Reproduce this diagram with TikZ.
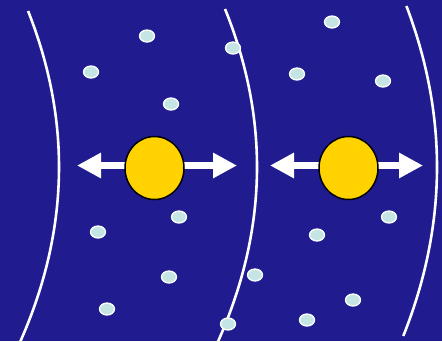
\documentclass[tikz,border=0pt]{standalone}
\usetikzlibrary{shapes.geometric,arrows.meta}
\definecolor{bg}{RGB}{32,28,144}
\definecolor{dotfill}{RGB}{197,229,229}
\definecolor{ball}{RGB}{255,210,0}
\begin{document}
\begin{tikzpicture}[x=1pt,y=-1pt,
  dot/.style={ellipse,fill=dotfill,draw=white,line width=1.3pt,minimum width=15pt,minimum height=12pt,inner sep=0pt},
  ballnode/.style={ellipse,fill=ball,draw=black,line width=1.5pt,minimum width=59pt,minimum height=63pt,inner sep=0pt},
  wave/.style={white,line width=2.6pt},
  blockarrow/.style={white,line width=7.5pt,{Triangle[length=24pt,width=24pt]}-{Triangle[length=24pt,width=24pt]}}]
\fill[bg] (0,0) rectangle (442,341);
\useasboundingbox (0,0) rectangle (442,341);
% wave fronts
\draw[wave] plot[domain=11:345,samples=60,variable=\t] ({59-12.7*((\t-167)/100)^2},\t);
\draw[wave] plot[domain=9:343,samples=60,variable=\t] ({257-12.8*((\t-167)/100)^2},\t);
\draw[wave] plot[domain=6:336,samples=60,variable=\t] ({437-11.8*((\t-167)/100)^2},\t);
% dots
\node[dot] (d1) at (147,36) {};
\node[dot] (d2) at (91,72) {};
\node[dot] (d3) at (171,104) {};
\node[dot] (d4) at (233,48) {};
\node[dot] (d5) at (332,22) {};
\node[dot] (d6) at (297,74) {};
\node[dot] (d7) at (383,81) {};
\node[dot] (d8) at (179,217) {};
\node[dot] (d9) at (98,232) {};
\node[dot] (d10) at (169,277) {};
\node[dot] (d11) at (107,309) {};
\node[dot] (d12) at (255,275) {};
\node[dot] (d13) at (228,324) {};
\node[dot] (d14) at (389,217) {};
\node[dot] (d15) at (317,235) {};
\node[dot] (d16) at (353,300) {};
\node[dot] (d17) at (307,320) {};
% arrows
\coordinate (L1) at (77,165.5);
\coordinate (R1) at (237,165.5);
\coordinate (L2) at (270,165.5);
\coordinate (R2) at (423,165.5);
\draw[blockarrow] (L1) -- (R1);
\draw[blockarrow] (L2) -- (R2);
% balls
\node[ballnode] (b1) at (154.5,168) {};
\node[ballnode] (b2) at (348.5,168) {};
\end{tikzpicture}
\end{document}
